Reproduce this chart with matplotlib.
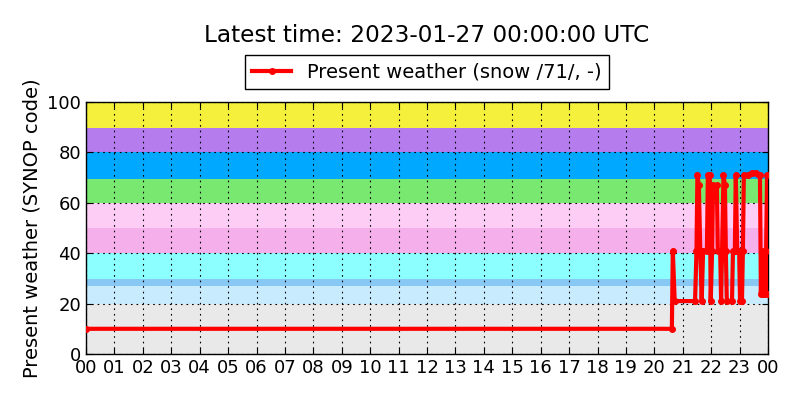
import matplotlib
matplotlib.use("Agg")
import matplotlib.pyplot as plt
import matplotlib.dates as mdates
import pandas as pd

# ── data ──
day = "2023-01-26"
times = ["00:00", "20:37", "20:39", "20:43", "21:26", "21:29", "21:31", "21:34",
         "21:37", "21:40", "21:43", "21:51", "21:53", "21:57", "21:59", "22:02",
         "22:04", "22:12", "22:14", "22:19", "22:21", "22:23", "22:26", "22:29",
         "22:31", "22:33", "22:44", "22:46", "22:50", "22:52", "22:55", "22:59",
         "23:01", "23:05", "23:07", "23:09", "23:18", "23:26", "23:35", "23:41",
         "23:43", "23:45", "23:47", "23:49", "23:54", "23:56", "23:58"]
ww = [10, 10, 41, 21, 21, 41, 71, 67,
      41, 21, 41, 41, 71, 71, 21, 41,
      67, 67, 41, 41, 21, 41, 71, 67,
      41, 21, 21, 41, 41, 71, 41, 41,
      21, 21, 41, 71, 71, 72, 72, 71,
      71, 24, 41, 24, 24, 41, 71]
last_time = "2023-01-27 00:00"
last_ww = 24

# SYNOP code bands (lower, upper, colour)
band_edges = [0, 20, 26.8, 29.7, 40, 50, 60, 69.5, 80, 89.7, 100]
band_colors = ["#e9e9e9", "#c8ecfe", "#88c8f4", "#8cffff", "#f5b0ec",
               "#fdcdf5", "#78e870", "#00a8ff", "#b47cec", "#f5f03c"]

t = pd.to_datetime([f"{day} {s}" for s in times] + [last_time])
v = ww + [last_ww]

fig = plt.figure(figsize=(8, 4), dpi=100)
ax = fig.add_axes([0.1075, 0.115, 0.8525, 0.63])

for lo, hi, c in zip(band_edges[:-1], band_edges[1:], band_colors):
    ax.axhspan(lo, hi, color=c, lw=0, zorder=0)

ax.plot(t, v, color="red", lw=3, marker="o", ms=4, mec="red",
        label="Present weather (snow /71/, -)", zorder=3)

ax.set_xlim(pd.Timestamp(f"{day} 00:00"), pd.Timestamp(last_time))
ax.set_ylim(0, 100)
ax.set_yticks(range(0, 101, 20))
ax.xaxis.set_major_locator(mdates.HourLocator())
ax.xaxis.set_major_formatter(mdates.DateFormatter("%H"))
ax.tick_params(direction="in", top=True, right=True, length=4, labelsize=13, color="k")
ax.grid(True, color="k", linestyle=(0, (1.5, 3.5)), lw=0.8)
for s in ax.spines.values():
    s.set_linewidth(1)
    s.set_color("k")

ax.set_ylabel("Present weather (SYNOP code)", fontsize=14)
ax.set_title("Latest time: 2023-01-27 00:00:00 UTC", fontsize=16.7, y=1.238, pad=0)
leg = ax.legend(loc="lower center", bbox_to_anchor=(0.5, 1.05), borderaxespad=0,
                fontsize=14, fancybox=False, framealpha=1, edgecolor="k",
                numpoints=1, handlelength=2)
leg.get_frame().set_linewidth(1)

fig.savefig("out.png", dpi=100, facecolor="white")
